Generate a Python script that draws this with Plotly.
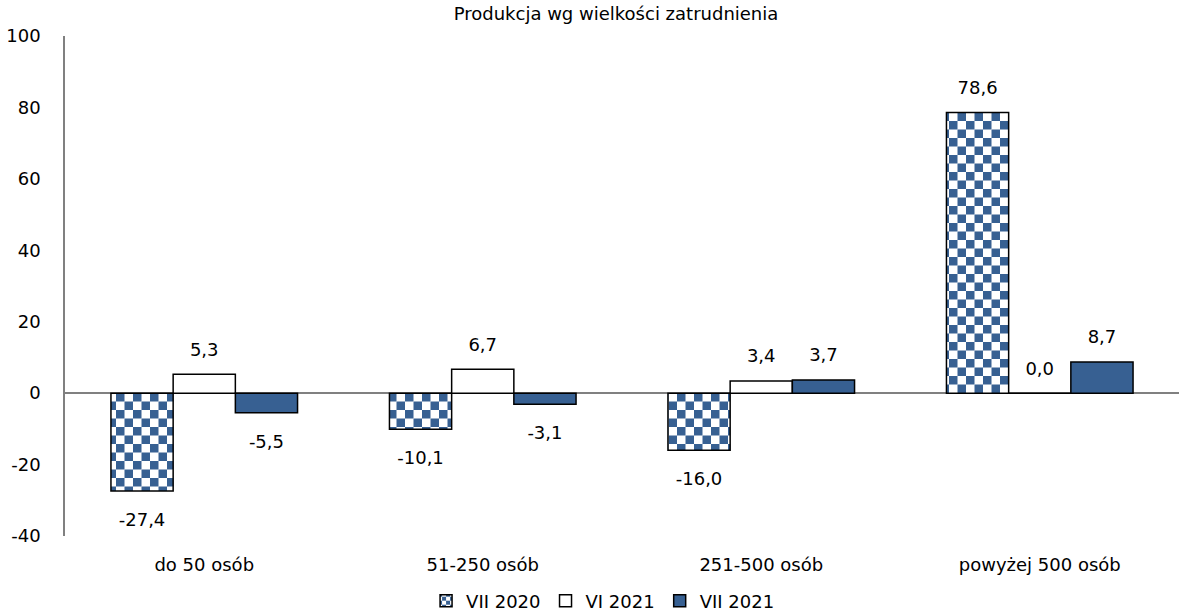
import plotly.graph_objects as go

categories = ["do 50 osób", "51-250 osób", "251-500 osób", "powyżej 500 osób"]
vii_2020 = [-27.4, -10.1, -16.0, 78.6]
vi_2021 = [5.3, 6.7, 3.4, 0.0]
vii_2021 = [-5.5, -3.1, 3.7, 8.7]
series_names = ["VII 2020", "VI 2021", "VII 2021"]
y_ticks = [-40, -20, 0, 20, 40, 60, 80, 100]
y_ticktext = [str(v) for v in y_ticks]

BLUE = "#376092"
FONT = "DejaVu Sans"
FS = 18


def fmt(v):
    return f"{v:.1f}".replace(".", ",")


fig = go.Figure()
series = [vii_2020, vi_2021, vii_2021]
markers = [
    dict(color="white", line=dict(color="black", width=1.5),
         pattern=dict(shape="+", fgcolor=BLUE, bgcolor="white", size=17, solidity=0.5)),
    dict(color="white", line=dict(color="black", width=1.5)),
    dict(color=BLUE, line=dict(color="black", width=1.5)),
]
groups = ["g1", "g2", "g3"]
for name, vals, mk, g in zip(series_names, series, markers, groups):
    fig.add_trace(go.Bar(x=categories, y=vals, name=name, marker=mk,
                         offsetgroup=g, hoverinfo="skip"))
for name, vals, g in zip(series_names, series, groups):
    fig.add_trace(go.Scatter(
        x=categories, y=vals, mode="markers+text", offsetgroup=g,
        text=[fmt(v) for v in vals],
        textposition=["top center" if v >= 0 else "bottom center" for v in vals],
        marker=dict(size=[21 if v >= 0 else 33 for v in vals], color="rgba(0,0,0,0)",
                    opacity=0, line=dict(width=0, color="rgba(0,0,0,0)")),
        textfont=dict(size=FS, color="black", family=FONT),
        showlegend=False, hoverinfo="skip", cliponaxis=False,
    ))

fig.update_layout(
    width=1179, height=615,
    margin=dict(l=65, r=0, t=36, b=79, autoexpand=False),
    paper_bgcolor="white", plot_bgcolor="white",
    font=dict(family=FONT, size=FS, color="black"),
    barmode="group", bargap=0.33, bargroupgap=0,
    scattermode="group", scattergap=0.33,
    title=dict(text="Produkcja wg wielkości zatrudnienia", x=616 / 1179, xanchor="center",
               xref="container", y=1 - 14 / 615, yanchor="middle",
               font=dict(size=FS, family=FONT)),
    legend=dict(orientation="h", x=0.483, xanchor="center", y=-0.13, yanchor="middle",
                font=dict(size=FS), traceorder="normal"),
    showlegend=True,
)
fig.update_yaxes(
    range=[-40, 100], tickvals=y_ticks, ticktext=y_ticktext, showgrid=False,
    showline=True, linecolor="#808080", linewidth=1.5,
    zeroline=True, zerolinecolor="#808080", zerolinewidth=1.5,
    ticks="", ticklabelstandoff=19, tickfont=dict(size=FS), automargin=False,
)
fig.update_xaxes(
    showgrid=False, showline=False, ticks="", ticklabelstandoff=16,
    tickfont=dict(size=FS), automargin=False,
)

post = """
document.body.style.margin = '0';
document.body.style.overflow = 'hidden';
var gd = document.getElementById('{plot_id}');
function checker(){
  var ns = 'http://www.w3.org/2000/svg';
  gd.querySelectorAll('pattern').forEach(function(p){
    var w = parseFloat(p.getAttribute('width'));
    var s = w/2;
    while(p.firstChild) p.removeChild(p.firstChild);
    function r(x,y,ww,hh,c){var e=document.createElementNS(ns,'rect');e.setAttribute('x',x);e.setAttribute('y',y);e.setAttribute('width',ww);e.setAttribute('height',hh);e.setAttribute('fill',c);p.appendChild(e);}
    r(0,0,w,w,'#ffffff'); r(0,0,s,s,'BLUEC'); r(s,s,s,s,'BLUEC');
  });
}
checker();
gd.on('plotly_afterplot', checker);
""".replace("BLUEC", BLUE)

fig.write_html("out.html", post_script=post, config={"displayModeBar": False})
